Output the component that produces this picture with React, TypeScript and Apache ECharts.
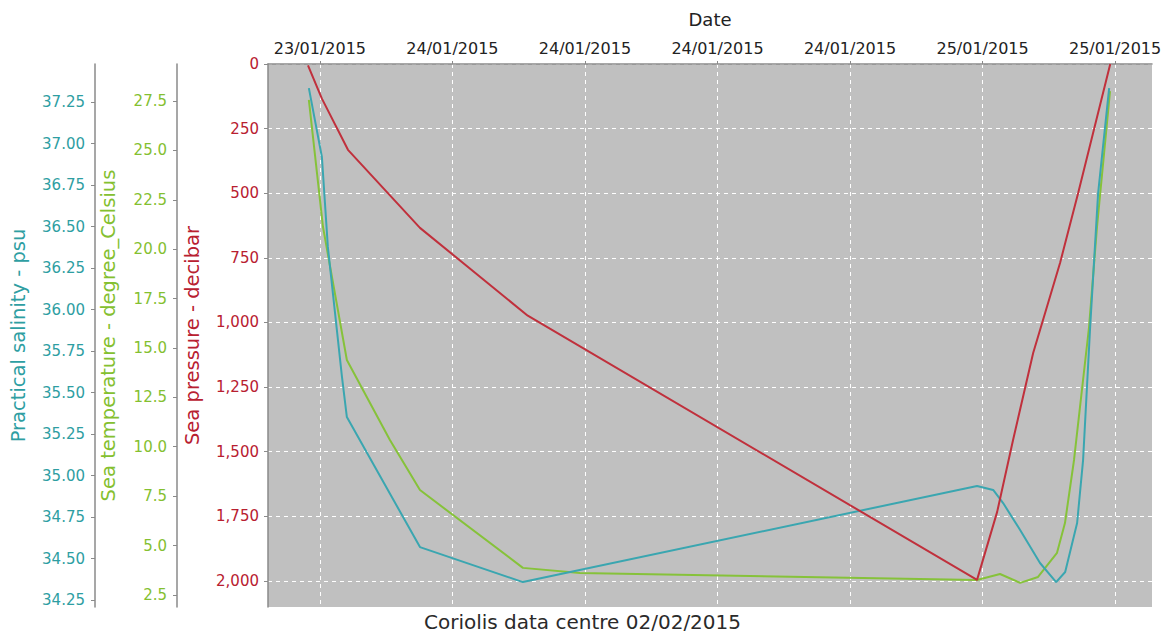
import React, { useEffect, useRef } from "react";
import * as echarts from "echarts";

// Hours since 23/01/2015 00:00
const dateTicks = [18, 24, 30, 36, 42, 48, 54];
const pressureTicks = [0, 250, 500, 750, 1000, 1250, 1500, 1750, 2000];
const tempTicks = [2.5, 5, 7.5, 10, 12.5, 15, 17.5, 20, 22.5, 25, 27.5];
const salTicks = [34.25, 34.5, 34.75, 35, 35.25, 35.5, 35.75, 36, 36.25, 36.5, 36.75, 37, 37.25];

const pressureTime = [17.46, 18.09, 19.27, 22.53, 27.41, 47.75, 48.66, 49.38, 50.29, 51.51, 52.33, 53.78];
const pressureVal = [5, 134, 332, 634, 974, 1996, 1733, 1455, 1118, 769, 498, 0];

const salTime = [17.5, 18.09, 18.36, 19.0, 19.22, 22.53, 27.19, 47.75, 48.48, 48.93, 49.7, 50.6, 51.33, 51.74, 52.28, 52.55, 52.87, 53.23, 53.73];
const salVal = [37.334, 36.919, 36.377, 35.593, 35.352, 34.569, 34.358, 34.937, 34.913, 34.834, 34.672, 34.473, 34.358, 34.419, 34.714, 35.093, 35.895, 36.7, 37.334];

const tempTime = [17.5, 18.14, 19.22, 21.17, 22.53, 27.19, 29.77, 47.75, 48.79, 49.7, 50.51, 51.37, 51.73, 52.14, 52.82, 53.18, 53.77];
const tempVal = [27.55, 21.12, 14.39, 10.34, 7.81, 3.87, 3.61, 3.26, 3.56, 3.11, 3.41, 4.63, 6.14, 9.33, 16.06, 21.12, 28.0];

const RED = "#c0303c";
const TEAL = "#3aa6b0";
const GREEN = "#86c23a";
const RED_T = "#b82030";
const TEAL_T = "#2e9ea2";
const GREEN_T = "#84c030";
const FONT = "DejaVu Sans";

function zip(a: number[], b: number[]) {
  return a.map((v, i) => [v, b[i]]);
}

function fmtDate(h: number) {
  const day = 23 + Math.floor((h + 1e-6) / 24);
  return `${day}/01/2015`;
}

function fmtComma(v: number) {
  return Math.round(v).toString().replace(/\B(?=(\d{3})+(?!\d))/g, ",");
}

export default function App() {
  const ref = useRef<HTMLDivElement>(null);
  useEffect(() => {
    if (!ref.current) return;
    const chart = echarts.init(ref.current, null, { renderer: "svg" });
    const axisLineGray = { show: true, lineStyle: { color: "#8a8a8a", width: 1.5 } };
    chart.setOption({
      animation: false,
      backgroundColor: "#ffffff",
      title: {
        text: "Coriolis data centre 02/02/2015",
        left: "center",
        bottom: 1,
        textStyle: { fontFamily: FONT, fontSize: 20, fontWeight: "normal", color: "#2a2a2a" },
      },
      grid: {
        left: 268,
        right: 13,
        top: 64,
        bottom: 31,
        backgroundColor: "#c0c0c0",
        show: true,
        borderWidth: 0,
        outerBoundsMode: "none",
      },
      xAxis: {
        type: "value",
        position: "top",
        min: 15.65,
        max: 55.67,
        name: "Date",
        nameLocation: "middle",
        nameGap: 36,
        nameTextStyle: { fontFamily: FONT, fontSize: 18, color: "#222" },
        axisLine: axisLineGray,
        axisTick: { show: true, length: 3, customValues: dateTicks, lineStyle: { color: "#8a8a8a" } },
        axisLabel: {
          customValues: dateTicks,
          formatter: (v: number) => fmtDate(v),
          fontFamily: FONT,
          fontSize: 16,
          color: "#222",
          margin: 8,
        },
        splitLine: { show: true, lineStyle: { color: "#ffffff", type: [4, 4], width: 1 } },
      },
      yAxis: [
        {
          type: "value",
          position: "left",
          inverse: true,
          min: 0,
          max: 2101,
          name: "Sea pressure - decibar",
          nameLocation: "middle",
          nameGap: 66,
          nameTextStyle: { fontFamily: FONT, fontSize: 19.5, color: RED_T },
          axisLine: axisLineGray,
          axisTick: { show: true, length: 4, customValues: pressureTicks, lineStyle: { color: "#8a8a8a" } },
          axisLabel: {
            customValues: pressureTicks,
            formatter: (v: number) => fmtComma(v),
            fontFamily: FONT,
            fontSize: 15,
            color: RED_T,
            margin: 9,
          },
          splitLine: { show: true, lineStyle: { color: "#ffffff", type: [4, 4], width: 1 } },
        },
        {
          type: "value",
          position: "left",
          offset: 91,
          min: 1.89,
          max: 29.37,
          name: "Sea temperature - degree_Celsius",
          nameLocation: "middle",
          nameGap: 59,
          nameTextStyle: { fontFamily: FONT, fontSize: 19.5, color: GREEN_T },
          axisLine: axisLineGray,
          axisTick: { show: true, length: 4, customValues: tempTicks, lineStyle: { color: "#8a8a8a" } },
          axisLabel: {
            customValues: tempTicks,
            formatter: (v: number) => v.toFixed(1),
            fontFamily: FONT,
            fontSize: 15,
            color: GREEN_T,
            margin: 10,
          },
          splitLine: { show: false },
        },
        {
          type: "value",
          position: "left",
          offset: 173,
          min: 34.208,
          max: 37.479,
          name: "Practical salinity - psu",
          nameLocation: "middle",
          nameGap: 67,
          nameTextStyle: { fontFamily: FONT, fontSize: 19.5, color: TEAL_T },
          axisLine: axisLineGray,
          axisTick: { show: true, length: 4, customValues: salTicks, lineStyle: { color: "#8a8a8a" } },
          axisLabel: {
            customValues: salTicks,
            formatter: (v: number) => v.toFixed(2),
            fontFamily: FONT,
            fontSize: 15,
            color: TEAL_T,
            margin: 10,
          },
          splitLine: { show: false },
        },
      ],
      series: [
        {
          name: "Sea pressure",
          type: "line",
          yAxisIndex: 0,
          data: zip(pressureTime, pressureVal),
          showSymbol: false,
          lineStyle: { color: RED, width: 2 },
          itemStyle: { color: RED },
          z: 3,
        },
        {
          name: "Sea temperature",
          type: "line",
          yAxisIndex: 1,
          data: zip(tempTime, tempVal),
          showSymbol: false,
          lineStyle: { color: GREEN, width: 2 },
          itemStyle: { color: GREEN },
          z: 2,
        },
        {
          name: "Practical salinity",
          type: "line",
          yAxisIndex: 2,
          data: zip(salTime, salVal),
          showSymbol: false,
          lineStyle: { color: TEAL, width: 2 },
          itemStyle: { color: TEAL },
          z: 2,
        },
      ],
    });
    return () => chart.dispose();
  }, []);
  return (
    <div
      ref={ref}
      style={{ position: "fixed", left: 0, top: 0, width: 1165, height: 638 }}
    />
  );
}
